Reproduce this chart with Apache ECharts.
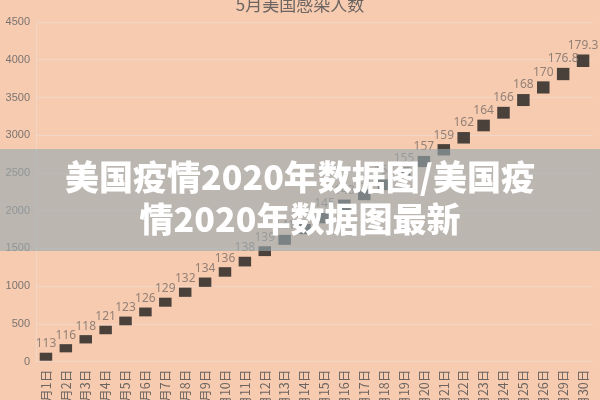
<!DOCTYPE html>
<html>
<head>
<meta charset="utf-8">
<script src="https://cdn.jsdelivr.net/npm/echarts@6/dist/echarts.min.js"></script>
<style>
html,body{margin:0;padding:0;background:#f7cbb0;}
#c{width:600px;height:400px;}
</style>
</head>
<body>
<div id="c"></div>
<script>
var categories = ['5月1日','5月2日','5月3日','5月4日','5月5日','5月6日','5月7日','5月8日','5月9日','5月10日',
  '5月11日','5月12日','5月13日','5月14日','5月15日','5月16日','5月17日','5月18日','5月19日','5月20日',
  '5月21日','5月22日','5月23日','5月24日','5月25日','5月26日','5月29日','5月30日'];
var values = [66,178,297,420,540,659,788,920,1053,1189,
  1326,1464,1614,1757,1902,2078,2210,2344,2502,2652,
  2807,2966,3129,3298,3466,3633,3811,3987];
var dailyLabels = ['113','116','118','121','123','126','129','132','134','136',
  '138','139','141','143','145','148','150','152','155','157',
  '159','162','164','166','168','170','176.8','179.3'];
var yTicks = [0,500,1000,1500,2000,2500,3000,3500,4000,4500];
var titleText = '5月美国感染人数';
var bandLine1 = '美国疫情2020年数据图/美国疫';
var bandLine2 = '情2020年数据图最新';

var chart = echarts.init(document.getElementById('c'), null, {renderer:'canvas'});
var n = values.length;
chart.setOption({
  backgroundColor: '#f7cbb0',
  animation: false,
  title: {
    text: titleText, left: 'center', top: -9,
    textStyle: {fontFamily: 'Noto Sans CJK SC', fontSize: 17, fontWeight: 'normal', color: '#6b6461'}
  },
  grid: {left: 36, right: 7, top: 22, bottom: 38.3, containLabel: false, outerBoundsMode: 'none'},
  xAxis: {
    type: 'category', data: categories, boundaryGap: true,
    axisLine: {show: true, lineStyle: {color: '#efd6c6', width: 1}},
    axisTick: {show: false},
    axisLabel: {rotate: 90, interval: 0, margin: 8, fontSize: 12.5, color: '#6b6461', fontFamily: 'Noto Sans CJK SC'}
  },
  yAxis: {
    type: 'value', min: yTicks[0], max: yTicks[yTicks.length-1], interval: 500,
    axisLine: {show: true, lineStyle: {color: '#efd6c6'}},
    axisTick: {show: false},
    splitLine: {lineStyle: {color: '#efd6c6', width: 1}},
    axisLabel: {fontSize: 11, color: '#7a7370', margin: 6, fontFamily: 'Liberation Sans',
      formatter: function (v) { return String(v); }}
  },
  series: [{
    type: 'scatter',
    data: values,
    symbol: 'rect',
    symbolSize: function (v, p) { var t = p.dataIndex / (n - 1); return [12.5, 8 + 4.5 * t]; },
    itemStyle: {color: '#1e1e1e'},
    label: {
      show: true, position: 'top', distance: 3,
      formatter: function (p) { return dailyLabels[p.dataIndex]; },
      fontSize: 12, color: '#7a6e68', fontFamily: '"Liberation Sans Narrow", "Noto Sans"'
    }
  }],
  graphic: [
    {type: 'rect', left: 0, top: 149, z: 100, shape: {width: 600, height: 102}, style: {fill: 'rgba(152,170,176,0.625)'}},
    {type: 'text', z: 101, left: 'center', top: 160,
      style: {text: bandLine1, fill: '#ffffff', font: '900 34px "Noto Sans CJK SC"'}},
    {type: 'text', z: 101, left: 'center', top: 202,
      style: {text: bandLine2, fill: '#ffffff', font: '900 34px "Noto Sans CJK SC"'}}
  ]
});
</script>
</body>
</html>
